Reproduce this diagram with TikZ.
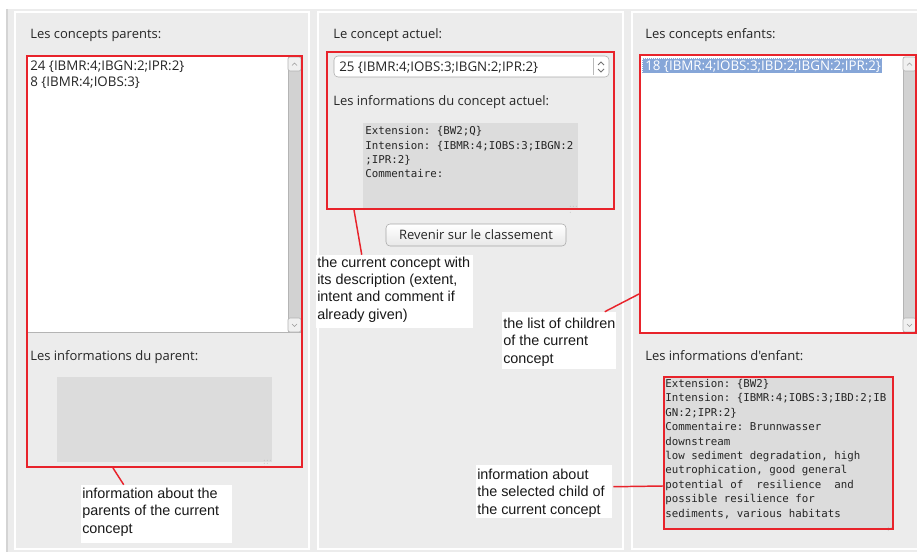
\documentclass[tikz,border=0pt]{standalone}
\usepackage{fontspec}
\setmainfont{Liberation Sans}
\newfontfamily\uifont{Open Sans}
\newfontfamily\monofont{DejaVu Sans Mono}
\usetikzlibrary{fit,calc}
\definecolor{panelbg}{HTML}{ECECEC}
\definecolor{redc}{HTML}{E8232B}
\definecolor{areabg}{HTML}{DCDCDC}
\definecolor{scrollbg}{HTML}{D2D2D2}
\definecolor{scrollbd}{HTML}{B4B4B4}
\definecolor{btnbg}{HTML}{F0F0F0}
\definecolor{selbg}{HTML}{86A6D8}
\definecolor{txt}{HTML}{262626}
\definecolor{framec}{HTML}{D4D4D4}
\begin{document}
\begin{tikzpicture}[x=0.75pt,y=-0.75pt,
  panel/.style={draw=white, line width=0.9pt, fill=panelbg},
  redbox/.style={draw=redc, line width=1.5pt, inner sep=0pt},
  listbox/.style={fill=white, inner sep=0pt},
  area/.style={fill=areabg, inner sep=0pt},
  scroll/.style={fill=scrollbg, draw=scrollbd, line width=0.5pt, inner sep=0pt},
  sbtn/.style={fill=btnbg, draw=scrollbd, line width=0.5pt, inner sep=0pt, rounded corners=1.5pt},
  chev/.style={draw=gray!80, line width=0.5pt},
  uilabel/.style={anchor=base west, inner sep=0pt, font=\uifont\fontsize{9.75}{11}\selectfont, text=txt},
  itemtext/.style={anchor=base west, inner sep=0pt, font=\uifont\fontsize{10}{11}\selectfont, text=txt},
  mono/.style={anchor=base west, inner sep=0pt, align=left, font=\monofont\fontsize{8.1}{10.8}\selectfont\frenchspacing, text=txt},
  notebox/.style={fill=white, inner sep=0pt},
  notetext/.style={anchor=base west, inner sep=0pt, align=left, font=\fontsize{10.8}{12.8}\selectfont, text=black!90},
  conn/.style={draw=redc, line width=1.1pt},
]
\useasboundingbox (0,0) rectangle (917,552);
% background
\fill[white] (0,0) rectangle (917,552);
\fill[panelbg] (7,9) rectangle (917,552);
\draw[framec, line width=0.8pt] (7,9) -- (7,552);
% panels
\draw[panel] (15,12) rectangle (309,549);
\draw[panel] (318,12) rectangle (623,549);
\draw[panel] (632,12) rectangle (920,549);

% ---------------- left panel ----------------
\node[uilabel] (ptitle) at (30,39) {Les concepts parents:};
\node[listbox, fit={(28,57)(301,332)}] (plist) {};
\draw[scrollbd, line width=0.6pt] (plist.south west) -- (plist.south east);
\node[scroll, fit={(288,57)(301,332)}] (pscroll) {};
\node[sbtn, fit={(288,57)(301,71)}] (pup) {};
\node[sbtn, fit={(288,318)(301,332)}] (pdown) {};
\draw[chev] ($(pup.center)+(-2.5,1.5)$) -- ($(pup.center)+(0,-1)$) -- ($(pup.center)+(2.5,1.5)$);
\draw[chev] ($(pdown.center)+(-2.5,-1)$) -- ($(pdown.center)+(0,1.5)$) -- ($(pdown.center)+(2.5,-1)$);
\node[itemtext] (p24) at (30,71) {24 \{IBMR:4;IBGN:2;IPR:2\}};
\node[itemtext] (p8) at (30,87) {8 \{IBMR:4;IOBS:3\}};
\node[uilabel] (pinfo) at (30,360) {Les informations du parent:};
\node[area, fit={(57,377)(272,462)}] (parea) {};
\foreach \i/\j in {0/0,3/0,6/0,3/3,6/3,6/6} \fill[gray!70] ($(parea.south east)+(-2-\i,-2-\j+\i)$) circle (0.45);
\node[redbox, fit={(27,56)(302,467)}] (pbox) {};
\node[notebox, fit={(81,485)(232,543)}] (pnote) {};
\node[notetext] (pnotetext) at (82,533)
  {information about the\\parents of the current\\concept};
\draw[conn] ($(pbox.south west)+(87,0)$) -- ($(pnote.north west)+(43,0)$);

% ---------------- middle panel ----------------
\node[uilabel] (mtitle) at (333,39) {Le concept actuel:};
\node[fit={(334,56)(609,77)}, inner sep=0pt, draw=gray!65, fill=white, rounded corners=3pt] (combo) {};
\node[itemtext] (mcur) at (339,72) {25 \{IBMR:4;IOBS:3;IBGN:2;IPR:2\}};
\draw[gray!55, line width=0.5pt] (593,58) -- (593,75);
\draw[chev, draw=gray!90!black, line width=0.7pt] (598,65) -- (601,62) -- (604,65);
\draw[chev, draw=gray!90!black, line width=0.7pt] (598,69) -- (601,72) -- (604,69);
\node[uilabel] (minfo) at (333,106) {Les informations du concept actuel:};
\node[area, fit={(363,123)(578,208)}] (marea) {};
\foreach \i/\j in {0/0,3/0,6/0,3/3,6/3,6/6} \fill[gray!70] ($(marea.south east)+(-2-\i,-2-\j+\i)$) circle (0.45);
\node[mono] (mtext) at (365,178)
  {Extension: \{BW2;Q\}\\Intension: \{IBMR:4;IOBS:3;IBGN:2\\;IPR:2\}\\Commentaire:};
\node[redbox, fit={(327,52)(614,209)}] (mbox) {};
\node[fit={(386,224)(566,246)}, inner sep=0pt, draw=gray!70, rounded corners=3pt,
  top color=white, bottom color=gray!18] (btn) {};
\node[uilabel, anchor=base] (btntext) at (476,240) {Revenir sur le classement};
\node[notebox, fit={(316,255)(473,328)}] (mnote) {};
\node[notetext] (mnotetext) at (317,319)
  {the current concept with\\its description (extent,\\intent and comment if\\already given)};
\draw[conn] ($(mbox.south west)+(28,0)$) -- ($(mnote.north west)+(46,0)$);

% ---------------- right panel ----------------
\node[uilabel] (ctitle) at (645,39) {Les concepts enfants:};
\node[listbox, fit={(641,56)(916,332)}] (clist) {};
\node[scroll, fit={(903,57)(916,332)}] (cscroll) {};
\node[sbtn, fit={(903,57)(916,71)}] (cup) {};
\node[sbtn, fit={(903,318)(916,332)}] (cdown) {};
\draw[chev] ($(cup.center)+(-2.5,1.5)$) -- ($(cup.center)+(0,-1)$) -- ($(cup.center)+(2.5,1.5)$);
\draw[chev] ($(cdown.center)+(-2.5,-1)$) -- ($(cdown.center)+(0,1.5)$) -- ($(cdown.center)+(2.5,-1)$);
\node[fit={(642,58)(882,73)}, inner sep=0pt, fill=selbg, draw=white, densely dotted, line width=0.5pt] (csel) {};
\node[itemtext, text=white] (c18) at (645,71) {18 \{IBMR:4;IOBS:3;IBD:2;IBGN:2;IPR:2\}};
\node[redbox, fit={(640,55)(916,333)}] (cbox) {};
\node[uilabel] (cinfo) at (645,360) {Les informations d'enfant:};
\node[area, fit={(664,377)(893,529)}] (carea) {};
\node[mono] (ctext) at (665,517)
  {Extension: \{BW2\}\\Intension: \{IBMR:4;IOBS:3;IBD:2;IB\\GN:2;IPR:2\}\\Commentaire: Brunnwasser\\downstream\\low sediment degradation, high\\eutrophication, good general\\potential of\ \ resilience\ \ and\\possible resilience for\\sediments, various habitats};
\foreach \i/\j in {0/0,3/0,3/3} \fill[gray!70] ($(carea.south east)+(-2-\i,-2-\j+\i)$) circle (0.45);
\node[redbox, fit={(664,377)(893,529)}] (cibox) {};
\node[notebox, fit={(502,312)(616,369)}] (cnote) {};
\node[notetext] (cnotetext) at (503,363)
  {the list of children\\of the current\\concept};
\draw[conn] ($(cnote.north west)+(103,0)$) -- ($(cbox.north west)+(0,240)$);
\node[notebox, fit={(476,465)(612,518)}] (cinote) {};
\node[notetext] (cinotetext) at (477,514)
  {information about\\the selected child of\\the current concept};
\draw[conn] ($(cinote.north east)+(1,22)$) -- ($(cibox.north west)+(0,110)$);
\end{tikzpicture}
\end{document}
